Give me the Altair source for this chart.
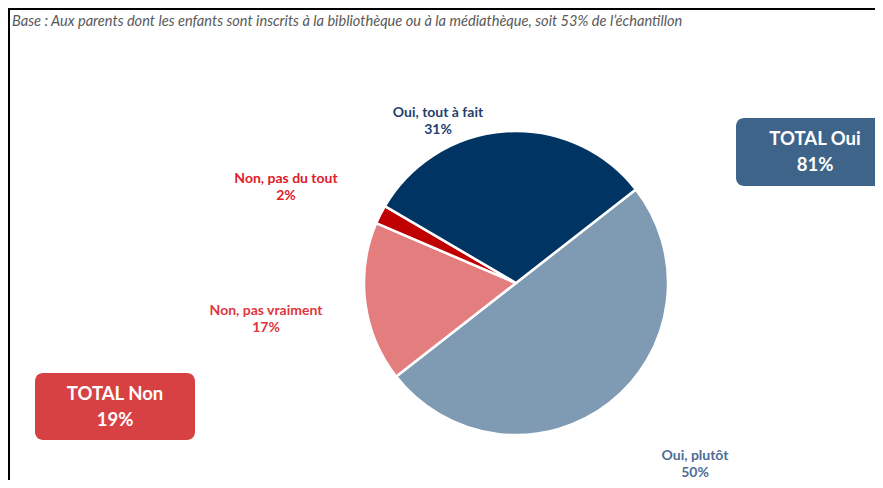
import math
import altair as alt
import pandas as pd

# ---- data ----
categories = ["Oui, plutôt", "Non, pas vraiment", "Non, pas du tout", "Oui, tout à fait"]
values = [50, 17, 2, 31]
slice_colors = ["#7F9AB3", "#E47E7E", "#C00000", "#003462"]
label_colors = ["#4D6D96", "#E0353D", "#E0202A", "#243F6E"]
totals_labels = ["TOTAL Oui", "TOTAL Non"]
totals_values = [81, 19]
subtitle = ("Base : Aux parents dont les enfants sont inscrits à la bibliothèque ou à la "
            "médiathèque, soit 53% de l’échantillon")

# ---- layout constants ----
W, H = 867, 472
CX, CY, R = 508, 275, 152
START = math.radians(52)
FONT = "Lato"
label_pos = [(687, 448), (258, 303), (278, 171), (430, 105)]  # first-line centres
box_pos = [(728, 880, 110, 178, "#3F6489", 807), (27, 187, 365, 432, "#D84143", 107)]

df = pd.DataFrame({"cat": categories, "val": values, "ord": range(len(values))})

pie = alt.Chart(df).mark_arc(stroke="white", strokeWidth=2.5, outerRadius=R).encode(
    theta=alt.Theta("val:Q", stack=True, scale=alt.Scale(range=[START, START + 2 * math.pi])),
    order=alt.Order("ord:Q"),
    color=alt.Color("cat:N", scale=alt.Scale(domain=categories, range=slice_colors), legend=None),
    x=alt.value(CX),
    y=alt.value(CY),
)

layers = [pie]

# slice labels
for cat, v, col, (lx, ly) in zip(categories, values, label_colors, label_pos):
    ldf = pd.DataFrame({"t": [f"{cat}\n{v}%"]})
    layers.append(
        alt.Chart(ldf).mark_text(font=FONT, fontWeight="bold", fontSize=14, color=col,
                                 align="center", baseline="middle", lineBreak="\n",
                                 lineHeight=17).encode(
            text="t:N", x=alt.value(lx), y=alt.value(ly)
        )
    )

# total boxes
for lab, v, (x1, x2, y1, y2, col, cxb) in zip(totals_labels, totals_values, box_pos):
    bdf = pd.DataFrame({"a": [0]})
    layers.append(
        alt.Chart(bdf).mark_rect(color=col, cornerRadius=8).encode(
            x=alt.value(x1), x2=alt.value(x2), y=alt.value(y1), y2=alt.value(y2)
        )
    )
    cyb = (y1 + y2) / 2
    tdf = pd.DataFrame({"t": [f"{lab}\n{v}%"]})
    layers.append(
        alt.Chart(tdf).mark_text(font=FONT, fontWeight="bold", fontSize=18.5, color="white",
                                 align="center", baseline="middle", lineBreak="\n",
                                 lineHeight=26).encode(
            text="t:N", x=alt.value(cxb), y=alt.value(cyb - 13)
        )
    )

# subtitle
layers.append(
    alt.Chart(pd.DataFrame({"t": [subtitle]})).mark_text(
        font=FONT, fontStyle="italic", fontSize=14.6, color="#595959", align="left", baseline="middle"
    ).encode(text="t:N", x=alt.value(4), y=alt.value(14))
)

# frame lines
frame = pd.DataFrame({"a": [0]})
layers.append(alt.Chart(frame).mark_rule(color="black", strokeWidth=2).encode(
    x=alt.value(0), x2=alt.value(W), y=alt.value(1)))
layers.append(alt.Chart(frame).mark_rule(color="black", strokeWidth=2).encode(
    x=alt.value(1), y=alt.value(0), y2=alt.value(H)))

chart = alt.layer(*layers).resolve_scale(color="independent").properties(
    width=W, height=H, padding=0, autosize=alt.AutoSizeParams(type="none")
).configure_view(stroke=None)

chart.save("out.html", embed_options={"renderer": "svg", "actions": False})
